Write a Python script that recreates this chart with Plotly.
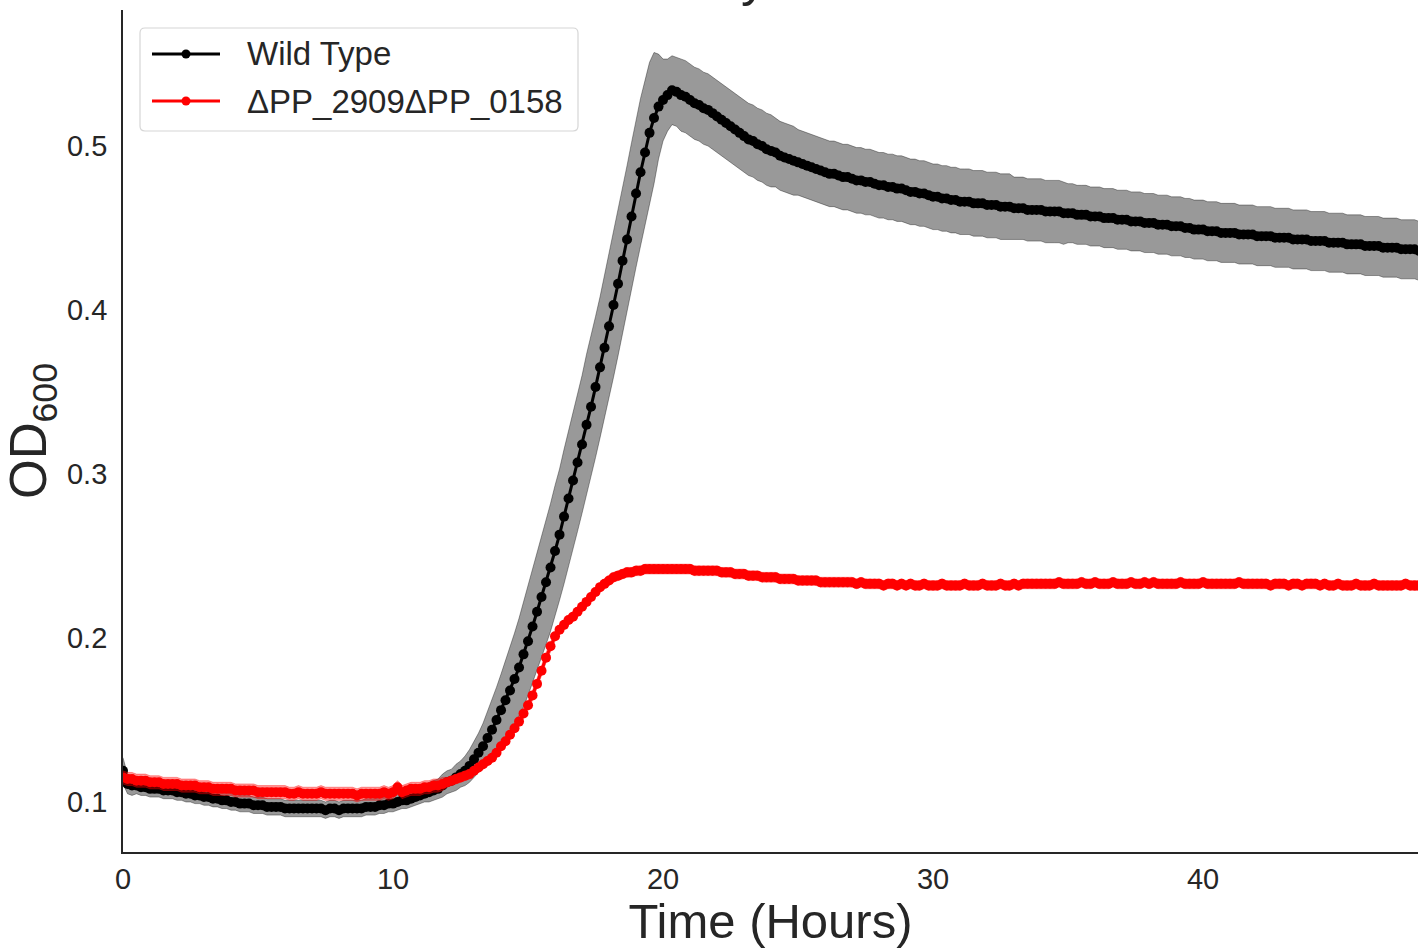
import plotly.graph_objects as go

# sampling every 10 minutes, 0 .. 48 h
time_h = [k / 6 for k in range(289)]

wt_mean = [
    0.119, 0.111, 0.110, 0.110, 0.109, 0.109,
    0.108, 0.108, 0.108, 0.107, 0.107, 0.107,
    0.106, 0.106, 0.105, 0.105, 0.104, 0.104,
    0.103, 0.103, 0.102, 0.102, 0.101, 0.101,
    0.100, 0.100, 0.099, 0.099, 0.099, 0.098,
    0.098, 0.098, 0.097, 0.097, 0.097, 0.097,
    0.096, 0.096, 0.096, 0.096, 0.096, 0.096,
    0.096, 0.096, 0.096, 0.095, 0.096, 0.096,
    0.095, 0.096, 0.096, 0.096, 0.096, 0.096,
    0.097, 0.097, 0.097, 0.098, 0.098, 0.099,
    0.099, 0.100, 0.101, 0.101, 0.102, 0.103,
    0.104, 0.105, 0.106, 0.107, 0.108, 0.110,
    0.112, 0.113, 0.115, 0.117, 0.119, 0.122,
    0.126, 0.130, 0.134, 0.139, 0.144, 0.150,
    0.156, 0.162, 0.168, 0.175, 0.182, 0.190,
    0.198, 0.207, 0.216, 0.225, 0.234, 0.243,
    0.253, 0.263, 0.274, 0.285, 0.296, 0.307,
    0.318, 0.330, 0.341, 0.353, 0.365, 0.377,
    0.390, 0.403, 0.416, 0.430, 0.443, 0.457,
    0.471, 0.484, 0.496, 0.508, 0.517, 0.524,
    0.528, 0.531, 0.534, 0.533, 0.531, 0.530,
    0.528, 0.526, 0.525, 0.523, 0.522, 0.520,
    0.518, 0.516, 0.514, 0.512, 0.510, 0.508,
    0.506, 0.504, 0.503, 0.501, 0.500, 0.498,
    0.497, 0.496, 0.494, 0.493, 0.492, 0.491,
    0.490, 0.489, 0.488, 0.487, 0.486, 0.485,
    0.484, 0.483, 0.483, 0.482, 0.481, 0.481,
    0.480, 0.479, 0.479, 0.478, 0.478, 0.477,
    0.476, 0.476, 0.475, 0.475, 0.474, 0.474,
    0.473, 0.472, 0.472, 0.471, 0.471, 0.470,
    0.469, 0.469, 0.468, 0.468, 0.467, 0.467,
    0.466, 0.466, 0.466, 0.465, 0.465, 0.465,
    0.464, 0.464, 0.464, 0.463, 0.463, 0.463,
    0.462, 0.462, 0.462, 0.461, 0.461, 0.461,
    0.461, 0.460, 0.460, 0.460, 0.460, 0.459,
    0.459, 0.459, 0.458, 0.458, 0.458, 0.457,
    0.457, 0.457, 0.456, 0.456, 0.456, 0.455,
    0.455, 0.455, 0.454, 0.454, 0.454, 0.453,
    0.453, 0.453, 0.452, 0.452, 0.452, 0.451,
    0.451, 0.451, 0.450, 0.450, 0.449, 0.449,
    0.449, 0.448, 0.448, 0.448, 0.447, 0.447,
    0.447, 0.447, 0.446, 0.446, 0.446, 0.446,
    0.445, 0.445, 0.445, 0.445, 0.444, 0.444,
    0.444, 0.444, 0.443, 0.443, 0.443, 0.443,
    0.442, 0.442, 0.442, 0.442, 0.441, 0.441,
    0.441, 0.441, 0.440, 0.440, 0.440, 0.440,
    0.439, 0.439, 0.439, 0.439, 0.438, 0.438,
    0.438, 0.438, 0.437, 0.437, 0.437, 0.437,
    0.436,
]

wt_sd = [
    0.008, 0.006, 0.006, 0.005, 0.005, 0.005,
    0.005, 0.005, 0.005, 0.005, 0.005, 0.005,
    0.005, 0.005, 0.005, 0.005, 0.005, 0.005,
    0.005, 0.005, 0.005, 0.005, 0.005, 0.005,
    0.005, 0.005, 0.005, 0.005, 0.005, 0.005,
    0.005, 0.005, 0.005, 0.005, 0.005, 0.005,
    0.005, 0.005, 0.005, 0.005, 0.005, 0.005,
    0.005, 0.005, 0.005, 0.005, 0.005, 0.005,
    0.005, 0.005, 0.005, 0.005, 0.005, 0.005,
    0.005, 0.005, 0.005, 0.005, 0.005, 0.005,
    0.005, 0.005, 0.005, 0.005, 0.005, 0.005,
    0.005, 0.005, 0.006, 0.006, 0.006, 0.007,
    0.007, 0.007, 0.008, 0.008, 0.009, 0.010,
    0.011, 0.012, 0.014, 0.016, 0.018, 0.020,
    0.022, 0.024, 0.026, 0.028, 0.030, 0.032,
    0.033, 0.035, 0.036, 0.037, 0.038, 0.039,
    0.040, 0.040, 0.041, 0.041, 0.042, 0.042,
    0.042, 0.043, 0.043, 0.043, 0.043, 0.044,
    0.044, 0.044, 0.044, 0.044, 0.045, 0.045,
    0.045, 0.045, 0.044, 0.043, 0.040, 0.032,
    0.025, 0.022, 0.021, 0.021, 0.022, 0.022,
    0.022, 0.022, 0.022, 0.022, 0.022, 0.022,
    0.022, 0.022, 0.022, 0.022, 0.022, 0.022,
    0.022, 0.022, 0.022, 0.022, 0.022, 0.022,
    0.022, 0.021, 0.021, 0.021, 0.021, 0.021,
    0.020, 0.020, 0.020, 0.020, 0.020, 0.020,
    0.020, 0.020, 0.020, 0.020, 0.020, 0.020,
    0.020, 0.020, 0.020, 0.020, 0.020, 0.020,
    0.020, 0.020, 0.020, 0.020, 0.020, 0.020,
    0.020, 0.020, 0.020, 0.020, 0.020, 0.020,
    0.020, 0.020, 0.020, 0.020, 0.020, 0.020,
    0.020, 0.020, 0.020, 0.020, 0.020, 0.020,
    0.020, 0.020, 0.020, 0.020, 0.020, 0.020,
    0.019, 0.019, 0.019, 0.019, 0.019, 0.019,
    0.019, 0.019, 0.019, 0.019, 0.019, 0.019,
    0.018, 0.018, 0.018, 0.018, 0.018, 0.018,
    0.018, 0.018, 0.018, 0.018, 0.018, 0.018,
    0.018, 0.018, 0.018, 0.018, 0.018, 0.018,
    0.018, 0.018, 0.018, 0.018, 0.018, 0.018,
    0.018, 0.018, 0.018, 0.018, 0.018, 0.018,
    0.018, 0.018, 0.018, 0.018, 0.018, 0.018,
    0.018, 0.018, 0.018, 0.018, 0.018, 0.018,
    0.018, 0.018, 0.018, 0.018, 0.018, 0.018,
    0.018, 0.018, 0.018, 0.018, 0.018, 0.018,
    0.018, 0.018, 0.018, 0.018, 0.018, 0.018,
    0.018, 0.018, 0.018, 0.018, 0.018, 0.018,
    0.018, 0.018, 0.018, 0.018, 0.018, 0.018,
    0.018, 0.018, 0.018, 0.018, 0.018, 0.018,
    0.018,
]

mut_mean = [
    0.115, 0.114, 0.114, 0.113, 0.113, 0.113,
    0.112, 0.112, 0.112, 0.111, 0.111, 0.111,
    0.111, 0.110, 0.110, 0.110, 0.110, 0.109,
    0.109, 0.109, 0.108, 0.108, 0.108, 0.108,
    0.108, 0.107, 0.107, 0.107, 0.107, 0.107,
    0.106, 0.106, 0.106, 0.106, 0.106, 0.106,
    0.106, 0.105, 0.105, 0.106, 0.105, 0.105,
    0.105, 0.105, 0.106, 0.105, 0.105, 0.105,
    0.105, 0.105, 0.105, 0.105, 0.104, 0.105,
    0.105, 0.105, 0.105, 0.105, 0.106, 0.105,
    0.106, 0.109, 0.106, 0.107, 0.108, 0.108,
    0.108, 0.109, 0.109, 0.110, 0.110, 0.111,
    0.112, 0.113, 0.114, 0.115, 0.116, 0.117,
    0.119, 0.121, 0.123, 0.125, 0.127, 0.130,
    0.134, 0.137, 0.141, 0.145, 0.149, 0.154,
    0.159, 0.165, 0.172, 0.180, 0.188, 0.195,
    0.201, 0.205, 0.208, 0.211, 0.213, 0.216,
    0.219, 0.222, 0.225, 0.228, 0.231, 0.233,
    0.235, 0.237, 0.238, 0.239, 0.240, 0.240,
    0.241, 0.241, 0.242, 0.242, 0.242, 0.242,
    0.242, 0.242, 0.242, 0.242, 0.242, 0.242,
    0.242, 0.241, 0.241, 0.241, 0.241, 0.241,
    0.241, 0.240, 0.240, 0.240, 0.239, 0.239,
    0.239, 0.238, 0.238, 0.238, 0.237, 0.237,
    0.237, 0.237, 0.236, 0.236, 0.236, 0.236,
    0.235, 0.235, 0.235, 0.235, 0.235, 0.234,
    0.234, 0.234, 0.234, 0.234, 0.234, 0.234,
    0.234, 0.233, 0.234, 0.233, 0.233, 0.233,
    0.233, 0.232, 0.233, 0.233, 0.232, 0.233,
    0.232, 0.233, 0.232, 0.232, 0.233, 0.232,
    0.232, 0.232, 0.233, 0.232, 0.232, 0.232,
    0.232, 0.233, 0.232, 0.232, 0.232, 0.233,
    0.232, 0.232, 0.232, 0.233, 0.232, 0.232,
    0.233, 0.232, 0.233, 0.233, 0.233, 0.233,
    0.233, 0.233, 0.233, 0.233, 0.234, 0.233,
    0.233, 0.233, 0.233, 0.234, 0.233, 0.233,
    0.234, 0.233, 0.233, 0.233, 0.234, 0.233,
    0.233, 0.233, 0.234, 0.233, 0.233, 0.234,
    0.233, 0.234, 0.233, 0.233, 0.233, 0.233,
    0.233, 0.234, 0.233, 0.233, 0.233, 0.233,
    0.234, 0.233, 0.233, 0.233, 0.233, 0.233,
    0.233, 0.233, 0.234, 0.233, 0.233, 0.233,
    0.233, 0.233, 0.233, 0.232, 0.233, 0.233,
    0.233, 0.232, 0.233, 0.233, 0.232, 0.233,
    0.233, 0.233, 0.232, 0.233, 0.232, 0.232,
    0.233, 0.232, 0.232, 0.232, 0.233, 0.232,
    0.232, 0.232, 0.233, 0.232, 0.232, 0.232,
    0.232, 0.232, 0.232, 0.233, 0.232, 0.232,
    0.232,
]

mut_sd = [
    0.004, 0.004, 0.004, 0.004, 0.004, 0.004,
    0.004, 0.004, 0.004, 0.004, 0.004, 0.004,
    0.004, 0.004, 0.004, 0.004, 0.004, 0.004,
    0.004, 0.004, 0.004, 0.004, 0.004, 0.004,
    0.004, 0.004, 0.004, 0.004, 0.004, 0.004,
    0.004, 0.004, 0.004, 0.004, 0.004, 0.004,
    0.004, 0.004, 0.004, 0.004, 0.004, 0.004,
    0.004, 0.004, 0.004, 0.004, 0.004, 0.004,
    0.004, 0.004, 0.004, 0.004, 0.004, 0.004,
    0.004, 0.004, 0.004, 0.004, 0.004, 0.004,
    0.004, 0.004, 0.004, 0.004, 0.004, 0.004,
    0.004, 0.004, 0.004, 0.004, 0.004, 0.004,
    0.003, 0.003, 0.003, 0.003, 0.003, 0.003,
    0.003, 0.003, 0.003, 0.003, 0.003, 0.003,
    0.003, 0.003, 0.003, 0.003, 0.003, 0.003,
    0.003, 0.003, 0.003, 0.003, 0.003, 0.003,
    0.003, 0.003, 0.003, 0.003, 0.003, 0.003,
    0.003, 0.003, 0.003, 0.003, 0.003, 0.003,
    0.003, 0.003, 0.003, 0.003, 0.003, 0.003,
    0.003, 0.003, 0.003, 0.003, 0.003, 0.003,
    0.003, 0.003, 0.003, 0.003, 0.003, 0.003,
    0.003, 0.003, 0.003, 0.003, 0.003, 0.003,
    0.003, 0.003, 0.003, 0.003, 0.003, 0.003,
    0.003, 0.003, 0.003, 0.003, 0.003, 0.003,
    0.003, 0.003, 0.003, 0.003, 0.003, 0.003,
    0.003, 0.003, 0.003, 0.003, 0.003, 0.003,
    0.003, 0.003, 0.003, 0.003, 0.003, 0.003,
    0.003, 0.003, 0.003, 0.003, 0.003, 0.003,
    0.003, 0.003, 0.003, 0.003, 0.003, 0.003,
    0.003, 0.003, 0.003, 0.003, 0.003, 0.003,
    0.003, 0.003, 0.003, 0.003, 0.003, 0.003,
    0.003, 0.003, 0.003, 0.003, 0.003, 0.003,
    0.003, 0.003, 0.003, 0.003, 0.003, 0.003,
    0.003, 0.003, 0.003, 0.003, 0.003, 0.003,
    0.003, 0.003, 0.003, 0.003, 0.003, 0.003,
    0.003, 0.003, 0.003, 0.003, 0.003, 0.003,
    0.003, 0.003, 0.003, 0.003, 0.003, 0.003,
    0.003, 0.003, 0.003, 0.003, 0.003, 0.003,
    0.003, 0.003, 0.003, 0.003, 0.003, 0.003,
    0.003, 0.003, 0.003, 0.003, 0.003, 0.003,
    0.003, 0.003, 0.003, 0.003, 0.003, 0.003,
    0.003, 0.003, 0.003, 0.003, 0.003, 0.003,
    0.003, 0.003, 0.003, 0.003, 0.003, 0.003,
    0.003, 0.003, 0.003, 0.003, 0.003, 0.003,
    0.003, 0.003, 0.003, 0.003, 0.003, 0.003,
    0.003, 0.003, 0.003, 0.003, 0.003, 0.003,
    0.003, 0.003, 0.003, 0.003, 0.003, 0.003,
    0.003, 0.003, 0.003, 0.003, 0.003, 0.003,
    0.003,
]

series_names = ["Wild Type", "\u0394PP_2909\u0394PP_0158"]
series_colors = ["#000000", "#ff0000"]
title_text = "Glycerol"
x_ticks = [0, 10, 20, 30, 40]
y_ticks = [0.1, 0.2, 0.3, 0.4, 0.5]

TEXT = "#262626"
FONT = "Liberation Sans, Arial, sans-serif"

# plot-area geometry in pixels (used to place legend items)
W, H = 1418, 948
ML, MR, MT, MB = 123, 0, 10, 96
PW, PH = W - ML - MR, H - MT - MB


def px_to_paper(px, py):
    return (px - ML) / PW, 1 - (py - MT) / PH


fig = go.Figure()


def add_series(mean, sd, name, line_color, band_fill, band_edge):
    upper = [m + s for m, s in zip(mean, sd)]
    lower = [m - s for m, s in zip(mean, sd)]
    fig.add_trace(go.Scatter(
        x=time_h + time_h[::-1], y=upper + lower[::-1],
        fill="toself", fillcolor=band_fill,
        line=dict(color=band_edge, width=0.8),
        mode="lines", hoverinfo="skip", showlegend=False,
    ))
    fig.add_trace(go.Scatter(
        x=time_h, y=mean, name=name, mode="lines+markers",
        line=dict(color=line_color, width=3),
        marker=dict(color=line_color, size=10, line=dict(width=0)),
        showlegend=False,
    ))


add_series(wt_mean, wt_sd, series_names[0], series_colors[0],
           "rgba(0,0,0,0.4)", "rgba(0,0,0,0.45)")
add_series(mut_mean, mut_sd, series_names[1], series_colors[1],
           "rgba(255,0,0,0.4)", "rgba(255,0,0,0.45)")

fig.update_layout(
    width=W, height=H,
    margin=dict(l=ML, r=MR, t=MT, b=MB),
    paper_bgcolor="white", plot_bgcolor="white",
    font=dict(family=FONT, color=TEXT, size=29),
    showlegend=False,
    xaxis=dict(
        range=[0, 47.96], tickvals=x_ticks, showgrid=False, zeroline=False,
        showline=True, linecolor=TEXT, linewidth=1.8, ticks="",
        tickfont=dict(size=29, color=TEXT), ticklabelstandoff=0,
        title=dict(text="Time (Hours)", font=dict(size=49, color=TEXT), standoff=4),
    ),
    yaxis=dict(
        range=[0.0695, 0.5829], tickvals=y_ticks, showgrid=False, zeroline=False,
        showline=True, linecolor=TEXT, linewidth=1.8, ticks="",
        tickfont=dict(size=29, color=TEXT), ticklabelstandoff=8,
        title=dict(text="OD<sub>600</sub>", font=dict(size=51, color=TEXT), standoff=6),
    ),
)

# title (cut off by the top of the page, as in the reference)
fig.add_annotation(
    text=title_text, xref="paper", yref="paper", x=0.5, y=1.0,
    xanchor="center", yanchor="bottom", showarrow=False,
    font=dict(size=52, color=TEXT, family=FONT), yshift=2, xshift=14,
)

# legend box (rounded rectangle)
bx0, by0 = px_to_paper(140, 28)
bx1, by1 = px_to_paper(578, 131)
rx, ry = 5 / PW, 5 / PH
path = (
    f"M{bx0 + rx},{by0} L{bx1 - rx},{by0} Q{bx1},{by0} {bx1},{by0 - ry} "
    f"L{bx1},{by1 + ry} Q{bx1},{by1} {bx1 - rx},{by1} "
    f"L{bx0 + rx},{by1} Q{bx0},{by1} {bx0},{by1 + ry} "
    f"L{bx0},{by0 - ry} Q{bx0},{by0} {bx0 + rx},{by0} Z"
)
fig.add_shape(type="path", path=path, xref="paper", yref="paper",
              line=dict(color="#d6d6d6", width=1.2), fillcolor="white", layer="above")

for i, (name, col) in enumerate(zip(series_names, series_colors)):
    row_y = 54 + 47 * i
    lx0, ly = px_to_paper(152, row_y)
    lx1, _ = px_to_paper(220, row_y)
    mx, _ = px_to_paper(186, row_y)
    fig.add_shape(type="line", xref="paper", yref="paper",
                  x0=lx0, x1=lx1, y0=ly, y1=ly,
                  line=dict(color=col, width=3), layer="above")
    fig.add_shape(type="circle", xref="paper", yref="paper",
                  xsizemode="pixel", ysizemode="pixel",
                  xanchor=mx, yanchor=ly, x0=-4.5, x1=4.5, y0=-4.5, y1=4.5,
                  fillcolor=col, line=dict(width=0), layer="above")
    tx, _ = px_to_paper(245, row_y)
    fig.add_annotation(text=name, xref="paper", yref="paper", x=tx, y=ly,
                       xanchor="left", yanchor="middle", showarrow=False,
                       font=dict(size=33, color=TEXT, family=FONT))

fig.write_html("out.html")
